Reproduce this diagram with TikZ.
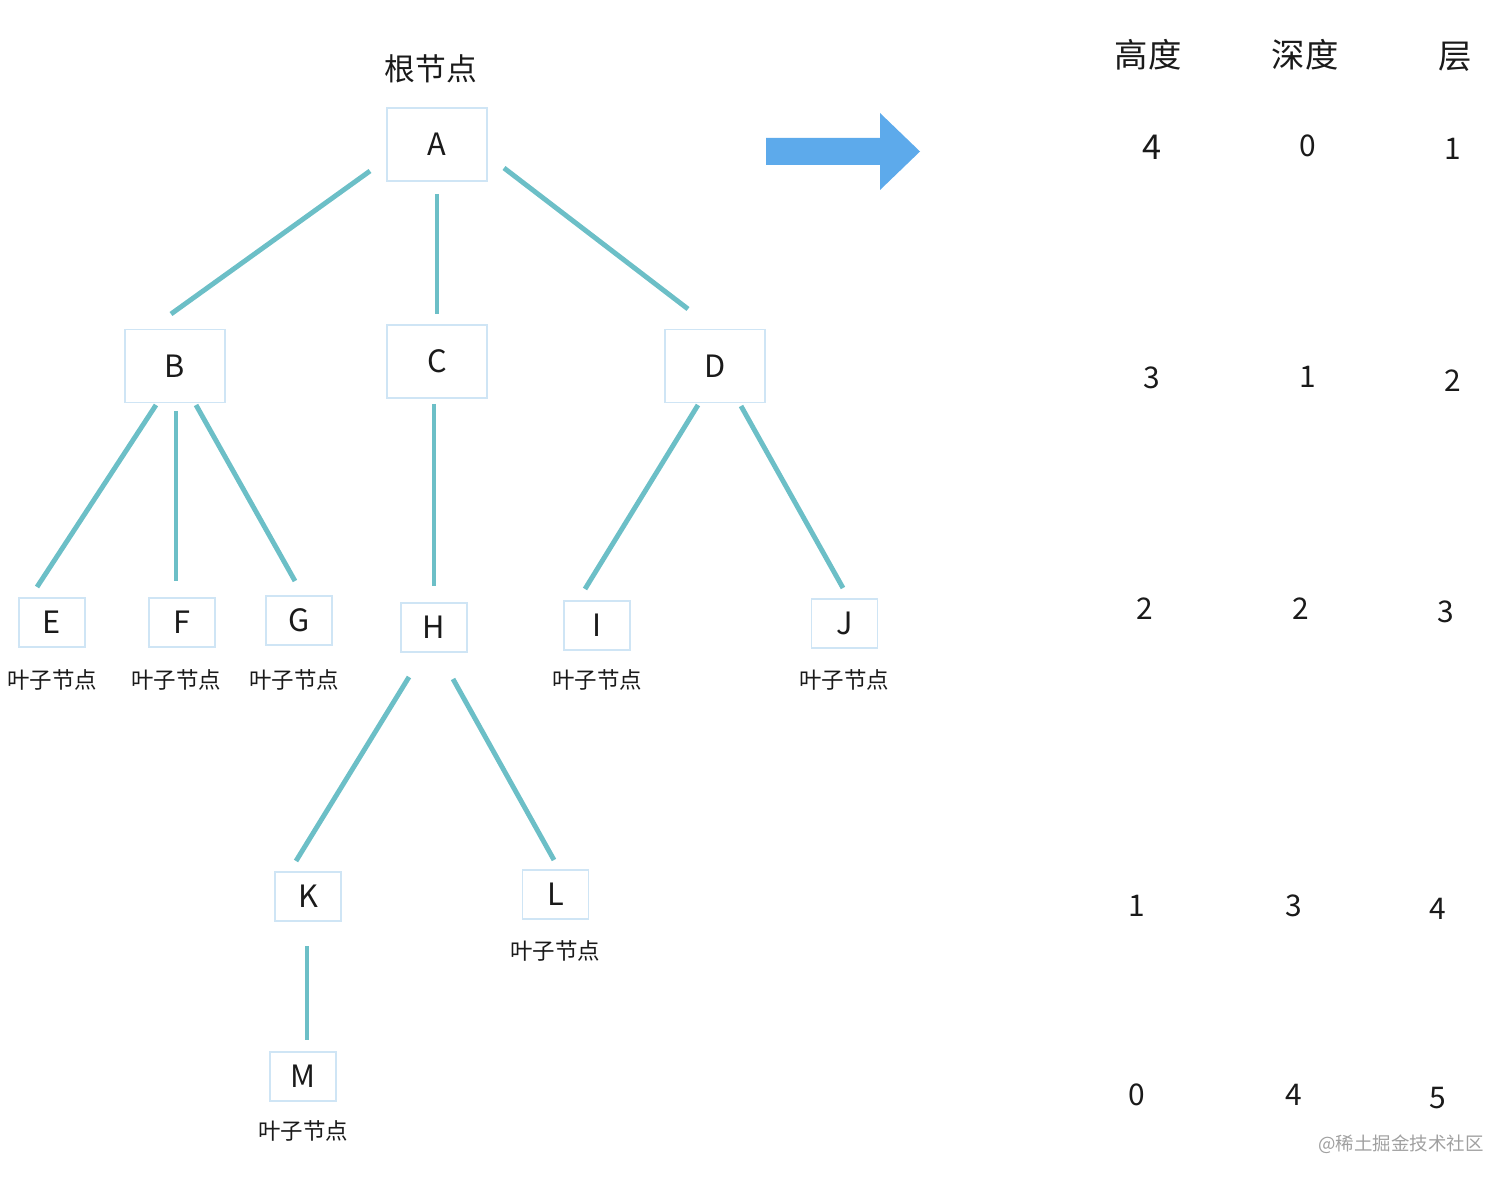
\documentclass[tikz,border=0pt]{standalone}
\usepackage{fontspec}
\setmainfont{Noto Sans CJK SC}
\definecolor{boxc}{HTML}{CFE5F5}
\definecolor{edgec}{HTML}{6CBFC7}
\definecolor{arrc}{HTML}{5DAAEB}
\definecolor{txt}{HTML}{1A1A1A}
\definecolor{wm}{HTML}{A0A0A0}
\tikzset{
  bigbox/.style={draw=boxc, line width=0.85pt, minimum width=2cm, minimum height=1.46cm, inner sep=0pt, text=txt, font=\fontsize{17.5}{20}\selectfont},
  smallbox/.style={draw=boxc, line width=0.85pt, minimum width=1.32cm, minimum height=0.98cm, inner sep=0pt, text=txt, font=\fontsize{17.5}{20}\selectfont},
  leaf/.style={text=txt, inner sep=0pt, font=\fontsize{12.8}{14}\selectfont},
  head/.style={text=txt, inner sep=0pt, font=\fontsize{19}{22}\selectfont},
  num/.style={text=txt, inner sep=0pt, font=\fontsize{17}{20}\selectfont},
  link/.style={draw=edgec, line width=2.8pt},
}
\begin{document}
\begin{tikzpicture}[x=0.02cm,y=-0.02cm]
\useasboundingbox (0,0) rectangle (1512,1185);
% nodes
\node[bigbox] (A) at (437,144.5) {A};
\node[bigbox] (B) at (175,366) {B};
\node[bigbox] (C) at (437,361.5) {C};
\node[bigbox] (D) at (715,366) {D};
\node[smallbox] (E) at (52,622.5) {E};
\node[smallbox] (F) at (182,622.5) {F};
\node[smallbox] (G) at (299,620.5) {G};
\node[smallbox] (H) at (434,627.5) {H};
\node[smallbox] (I) at (597,625.5) {I};
\node[smallbox] (J) at (844.5,623.5) {J};
\node[smallbox] (K) at (308,896.5) {K};
\node[smallbox] (L) at (555.5,894.5) {L};
\node[smallbox] (M) at (303,1076.5) {M};
% labels
\node[head, font=\fontsize{17.5}{20}\selectfont] (root) at (431,69) {根节点};
\node[leaf] (lE) at (52,680) {叶子节点};
\node[leaf] (lF) at (176,680) {叶子节点};
\node[leaf] (lG) at (294,680) {叶子节点};
\node[leaf] (lI) at (597,680) {叶子节点};
\node[leaf] (lJ) at (844,680) {叶子节点};
\node[leaf] (lL) at (555,951) {叶子节点};
\node[leaf] (lM) at (303,1131) {叶子节点};
% connector end points
\coordinate (ab1) at (370,171); \coordinate (ab2) at (171,314);
\coordinate (ac1) at (437,194); \coordinate (ac2) at (437,314);
\coordinate (ad1) at (504,168); \coordinate (ad2) at (688,309);
\coordinate (be1) at (156,405); \coordinate (be2) at (37,587);
\coordinate (bf1) at (176,411); \coordinate (bf2) at (176,581);
\coordinate (bg1) at (196,405); \coordinate (bg2) at (295,581);
\coordinate (ch1) at (434,404); \coordinate (ch2) at (434,586);
\coordinate (di1) at (698,405); \coordinate (di2) at (585,589);
\coordinate (dj1) at (741,406); \coordinate (dj2) at (843,588);
\coordinate (hk1) at (409,677); \coordinate (hk2) at (296,861);
\coordinate (hl1) at (453,679); \coordinate (hl2) at (554,860);
\coordinate (km1) at (307,946); \coordinate (km2) at (307,1040);
\draw[link] (ab1) -- (ab2);
\draw[link] (ac1) -- (ac2);
\draw[link] (ad1) -- (ad2);
\draw[link] (be1) -- (be2);
\draw[link] (bf1) -- (bf2);
\draw[link] (bg1) -- (bg2);
\draw[link] (ch1) -- (ch2);
\draw[link] (di1) -- (di2);
\draw[link] (dj1) -- (dj2);
\draw[link] (hk1) -- (hk2);
\draw[link] (hl1) -- (hl2);
\draw[link] (km1) -- (km2);
% big arrow
\fill[arrc] (766,138) -- (880,138) -- (880,113) -- (920,151.5) -- (880,190) -- (880,165) -- (766,165) -- cycle;
% table
\node[head] (h1) at (1148,55) {高度};
\node[head] (h2) at (1305,55) {深度};
\node[head] (h3) at (1455,57) {层};
\node[num, font=\fontsize{19.5}{22}\selectfont] (r11) at (1152,147) {4};
\node[num] (r12) at (1308,146) {0};
\node[num] (r13) at (1453,149) {1};
\node[num] (r21) at (1152,378) {3};
\node[num] (r22) at (1308,377) {1};
\node[num] (r23) at (1453,381) {2};
\node[num] (r31) at (1145,609) {2};
\node[num] (r32) at (1301,609) {2};
\node[num] (r33) at (1446,612) {3};
\node[num] (r41) at (1137,906) {1};
\node[num] (r42) at (1294,906) {3};
\node[num] (r43) at (1438,909) {4};
\node[num] (r51) at (1137,1095) {0};
\node[num] (r52) at (1294,1095) {4};
\node[num] (r53) at (1438,1098) {5};
\node[text=wm, inner sep=0pt, font=\fontsize{10.5}{12}\selectfont] (wmk) at (1401,1144) {@稀土掘金技术社区};
\end{tikzpicture}
\end{document}
